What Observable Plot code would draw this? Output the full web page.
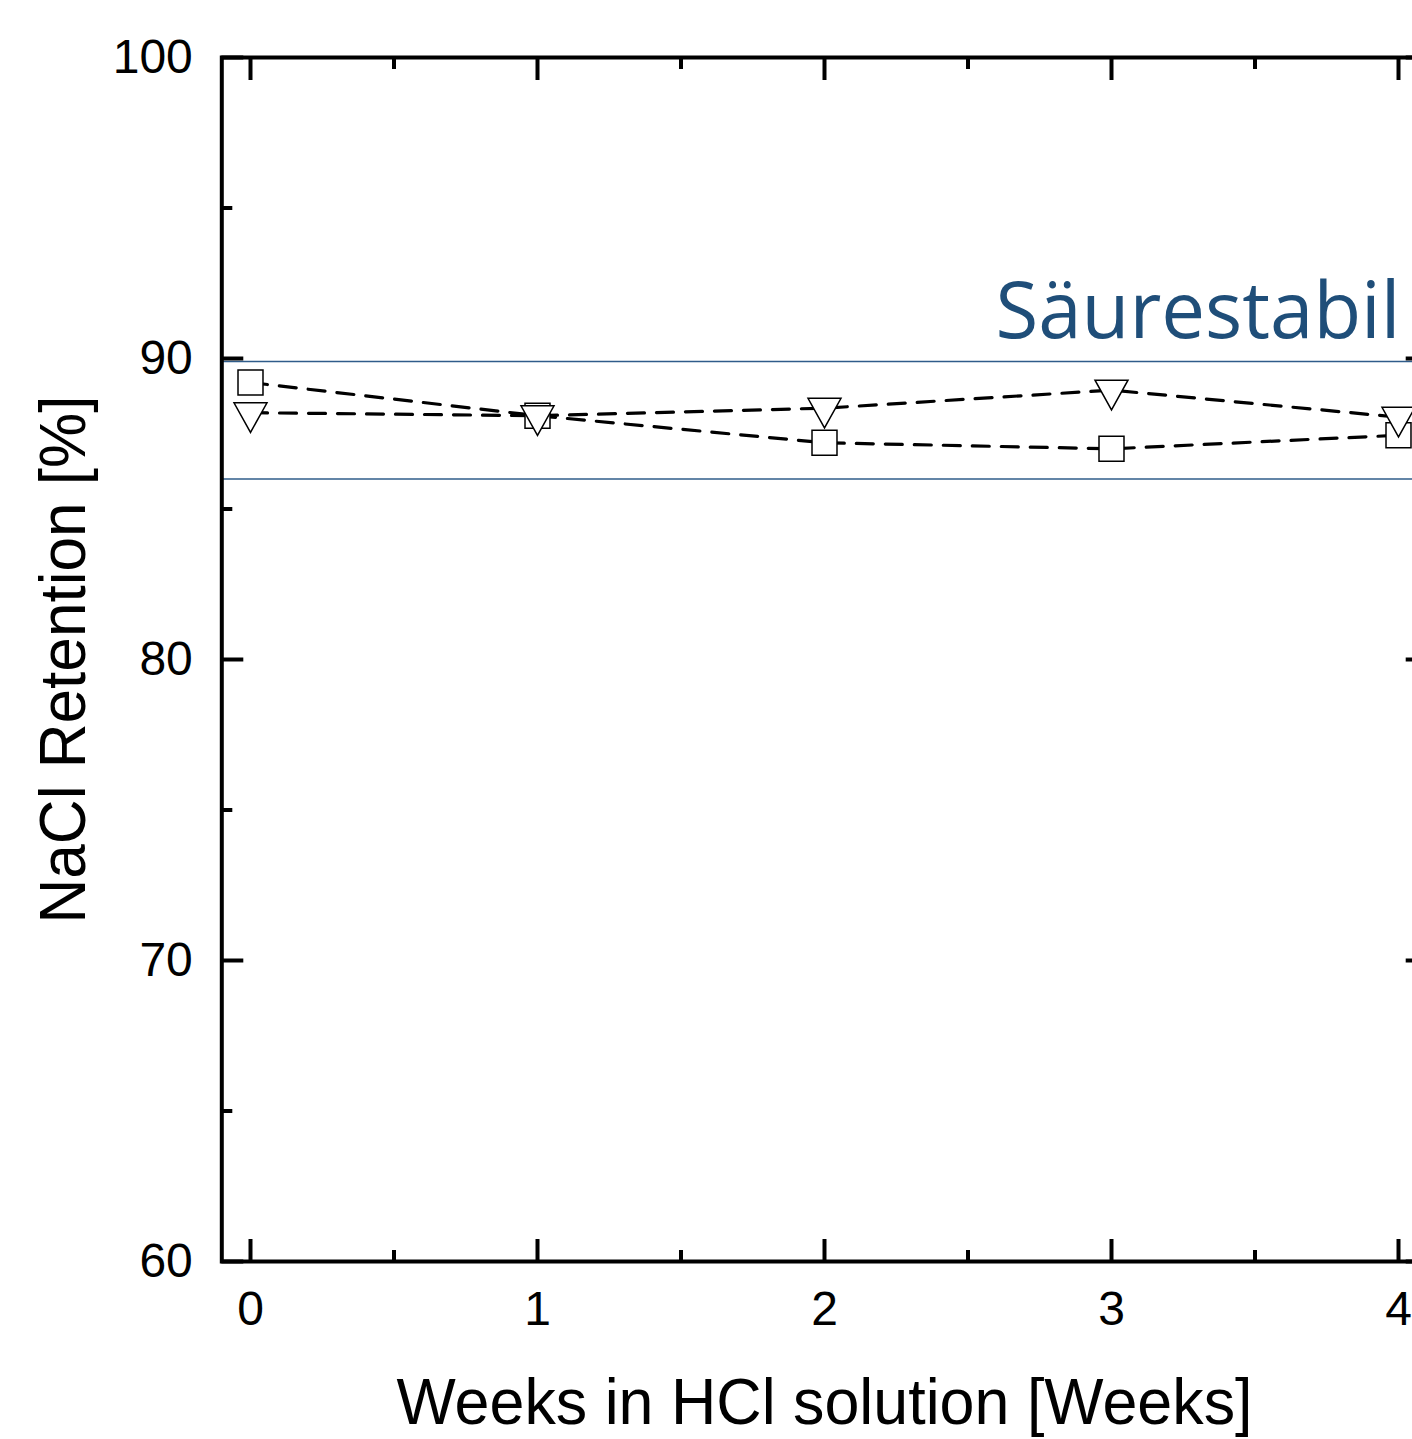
<!DOCTYPE html>
<html><head><meta charset="utf-8">
<script src="https://cdn.jsdelivr.net/npm/d3@7"></script>
<script src="https://cdn.jsdelivr.net/npm/@observablehq/plot@0.6"></script>
<style>
html,body{margin:0;padding:0;background:#fff;overflow:hidden;}
#chart{width:1412px;height:1439px;overflow:hidden;}
#chart svg{max-width:none;}
</style></head><body><div id="chart"></div>
<script>
// ---- data ----
const weeks = [0, 1, 2, 3, 4];
const squareSeries = [89.2, 88.1, 87.2, 87.0, 87.45];
const triangleSeries = [88.2, 88.1, 88.35, 88.95, 88.05];
const bandLimits = [86.0, 89.9];
const bandLabel = "Säurestabil";
const xMajorTicks = [0, 1, 2, 3, 4];
const xMinorTicks = [0.5, 1.5, 2.5, 3.5];
const yMajorTicks = [60, 70, 80, 90, 100];
const yMinorTicks = [65, 75, 85, 95];
const xTitle = "Weeks in HCl solution [Weeks]";
const yTitle = "NaCl Retention [%]";

const squares = weeks.map((w, i) => ({week: w, value: squareSeries[i]}));
const triangles = weeks.map((w, i) => ({week: w, value: triangleSeries[i]}));
const annotation = [{week: weeks[weeks.length - 1], value: bandLimits[1], label: bandLabel}];

const FONT = "'Liberation Sans', Arial, Helvetica, sans-serif";

const triangleDown = {
  draw(context, size) {
    const r = Math.sqrt(size / Math.PI);
    const hw = r * 1.17, h = r * 2.1;
    context.moveTo(-hw, -h / 3);
    context.lineTo(hw, -h / 3);
    context.lineTo(0, 2 * h / 3);
    context.closePath();
  }
};

const lineStyle = {x: "week", y: "value", stroke: "black", strokeWidth: 3.2, strokeDasharray: "17,12"};
const dotStyle = {x: "week", y: "value", fill: "white", stroke: "black", strokeWidth: 1.5, r: 14.1};
const tickStyle = {stroke: "black", strokeWidth: 4, label: null};

const chart = Plot.plot({
  width: 1447,
  height: 1439,
  marginLeft: 221.3,
  marginRight: 20.3,
  marginTop: 57,
  marginBottom: 178,
  style: {background: "white", fontFamily: FONT, maxWidth: "none"},
  x: {domain: [-0.1, 4.1], label: null},
  y: {domain: [60, 100], label: null},
  marks: [
    Plot.ruleY(bandLimits, {stroke: "#2f5c8a", strokeWidth: 1.5}),
    Plot.line(squares, lineStyle),
    Plot.line(triangles, lineStyle),
    Plot.dot(squares, {...dotStyle, symbol: "square"}),
    Plot.dot(triangles, {...dotStyle, symbol: triangleDown}),
    Plot.text(annotation, {x: "week", y: "value", text: "label", textAnchor: "end", lineAnchor: "bottom",
      dy: -24, dx: 2, fontSize: 78, fontFamily: "'Open Sans', Lato, sans-serif", fill: "#1f4e79"}),
    Plot.frame({stroke: "black", strokeWidth: 4}),
    // bottom axis
    Plot.axisX(xMajorTicks, {anchor: "bottom", tickSize: -22, tickPadding: 51, fontSize: 48, fontFamily: FONT, fill: "black", tickFormat: d => String(d), ...tickStyle}),
    Plot.axisX(xMinorTicks, {anchor: "bottom", tickSize: -11, fill: "none", ...tickStyle}),
    Plot.axisX([], {anchor: "bottom", tickSize: 0, label: xTitle, labelAnchor: "center", labelArrow: "none", labelOffset: 162, fontSize: 65, fontFamily: FONT, fill: "black"}),
    // top axis
    Plot.axisX(xMajorTicks, {anchor: "top", tickSize: -22, fill: "none", ...tickStyle}),
    Plot.axisX(xMinorTicks, {anchor: "top", tickSize: -11, fill: "none", ...tickStyle}),
    // left axis
    Plot.axisY(yMajorTicks, {anchor: "left", tickSize: -22, tickPadding: 51, fontSize: 48, fontFamily: FONT, fill: "black", tickFormat: d => String(d), ...tickStyle}),
    Plot.axisY(yMinorTicks, {anchor: "left", tickSize: -11, fill: "none", ...tickStyle}),
    Plot.axisY([], {anchor: "left", tickSize: 0, label: yTitle, labelAnchor: "center", labelArrow: "none", labelOffset: 183, fontSize: 65, fontFamily: FONT, fill: "black"}),
    // right axis
    Plot.axisY(yMajorTicks, {anchor: "right", tickSize: -22, fill: "none", ...tickStyle}),
    Plot.axisY(yMinorTicks, {anchor: "right", tickSize: -11, fill: "none", ...tickStyle})
  ]
});

document.getElementById("chart").appendChild(chart);
const root = d3.select(chart);
root.select('g[aria-label="x-axis label"] text').attr("textLength", 856).attr("lengthAdjust", "spacingAndGlyphs");
root.select('g[aria-label="y-axis label"] text').attr("textLength", 528).attr("lengthAdjust", "spacingAndGlyphs");
</script>
</body></html>
